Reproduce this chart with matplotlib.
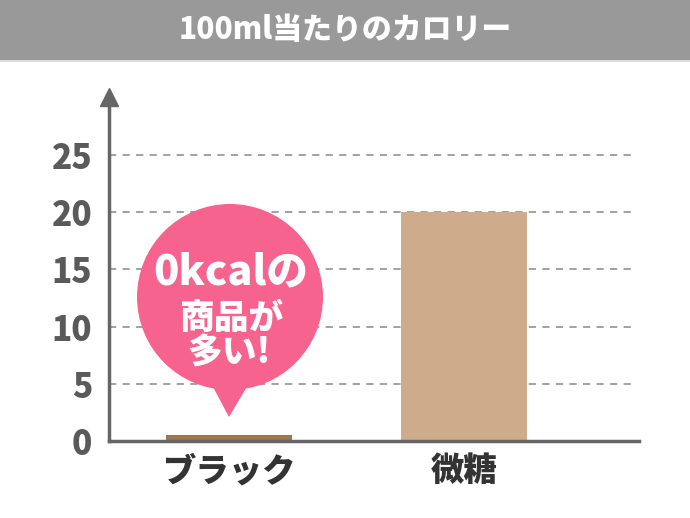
import matplotlib
matplotlib.use("Agg")
from matplotlib import pyplot as plt
from matplotlib.patches import Circle, Polygon, Rectangle

plt.rcParams['font.family'] = ['Noto Sans CJK JP', 'DejaVu Sans']

title = "100ml当たりのカロリー"
categories = ["ブラック", "微糖"]
values = [0.5, 20]
bar_colors = ["#9c7750", "#ceab8b"]
yticks = [0, 5, 10, 15, 20, 25]
bubble_lines = ["0kcalの", "商品が", "多い!"]

W, H = 690, 518
fig = plt.figure(figsize=(W / 100, H / 100), dpi=100)
fig.patch.set_facecolor("white")

# chart area
ax = fig.add_axes([109 / W, 1 - 441 / H, 530 / W, 344 / H])
xs = list(range(len(categories)))
ax.bar(xs, values, width=0.536, color=bar_colors, zorder=3)
ax.set_xlim(-0.511, 1.745)
ax.set_ylim(0, 30.07)
ax.set_yticks(yticks)
ax.set_xticks(xs)
ax.set_xticklabels(categories, fontsize=24, fontweight=900, color="#333333")
ax.set_yticklabels([str(t) for t in yticks], fontsize=24, fontweight=900, color="#5a5a5a")
ax.tick_params(axis="y", length=0, pad=12)
ax.tick_params(axis="x", length=0, pad=9)
for t in yticks[1:]:
    ax.axhline(t, xmin=0, xmax=528 / 530, color="#9a9a9a", lw=1.3, ls=(0, (4, 3.5)), zorder=1)
for s in ["top", "right"]:
    ax.spines[s].set_visible(False)
ax.spines["left"].set_color("#666666")
ax.spines["bottom"].set_color("#666666")
ax.spines["left"].set_linewidth(2.5)
ax.spines["bottom"].set_linewidth(2.5)
ax.spines["left"].set_zorder(4)
ax.spines["bottom"].set_zorder(4)
ax.plot([0], [1.0], marker="^", markersize=13, color="#666666",
        transform=ax.transAxes, clip_on=False, zorder=5)

# overlay in pixel coords for title band and speech bubble
ov = fig.add_axes([0, 0, 1, 1], zorder=10)
ov.set_xlim(0, W)
ov.set_ylim(H, 0)
ov.axis("off")
ov.patch.set_alpha(0)

ov.add_patch(Rectangle((0, 0), W, 60, color="#999999", lw=0))
ov.add_patch(Rectangle((0, 60), W, 2, color="#dddddd", lw=0))
ov.text(W / 2, 30, title, color="white", fontsize=21.5, fontweight=900,
        ha="center", va="center")

pink = "#f7638f"
ov.add_patch(Circle((230, 297), 93, color=pink, lw=0))
ov.add_patch(Polygon([(212, 385), (248, 385), (229, 417)], closed=True, color=pink, lw=0))
ov.text(231, 272, bubble_lines[0], color="white", fontsize=30, fontweight=900,
        ha="center", va="center")
ov.text(231, 318, bubble_lines[1], color="white", fontsize=25, fontweight=900,
        ha="center", va="center")
ov.text(229, 353, bubble_lines[2], color="white", fontsize=25, fontweight=900,
        ha="center", va="center")

fig.savefig("out.png", dpi=100)
